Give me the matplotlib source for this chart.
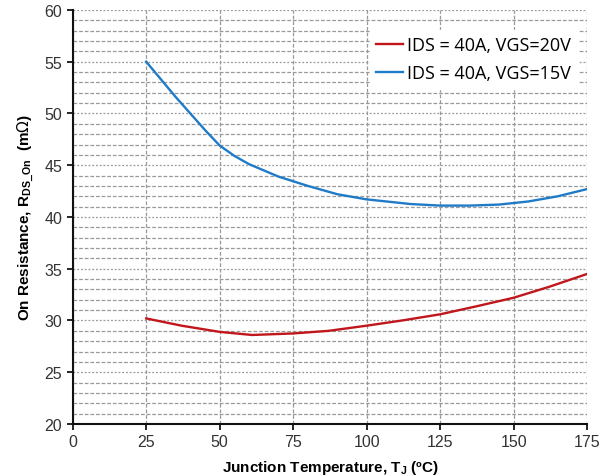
import matplotlib.pyplot as plt
from matplotlib.ticker import MultipleLocator

# Values
temp_blue = [25, 30, 35, 40, 45, 50, 55, 60, 70, 80, 90, 100, 115, 125, 135, 145, 155, 165, 175]
rds_vgs15 = [55.0, 53.3, 51.6, 50.0, 48.4, 46.9, 45.9, 45.1, 43.9, 43.0, 42.2, 41.7, 41.25, 41.1, 41.1, 41.2, 41.5, 42.0, 42.7]

temp_red = [25, 37, 50, 61, 75, 87, 100, 112, 125, 137, 150, 162, 175]
rds_vgs20 = [30.2, 29.5, 28.9, 28.6, 28.75, 29.0, 29.5, 30.0, 30.6, 31.35, 32.2, 33.25, 34.5]

labels = ['IDS = 40A, VGS=20V', 'IDS = 40A, VGS=15V']
x_ticks = [0, 25, 50, 75, 100, 125, 150, 175]
y_ticks = [20, 25, 30, 35, 40, 45, 50, 55, 60]

fig = plt.figure(figsize=(6.06, 4.77), dpi=100)
ax = fig.add_axes([0.120, 0.109, 0.849, 0.868])

ax.plot(temp_red, rds_vgs20, color='#c0161c', lw=1.7, label=labels[0])
ax.plot(temp_blue, rds_vgs15, color='#1f7bc8', lw=1.7, label=labels[1])

ax.set_xlim(0, 175)
ax.set_ylim(20, 60)
ax.set_xticks(x_ticks)
ax.set_yticks(y_ticks)
ax.yaxis.set_minor_locator(MultipleLocator(1))

# Grid
ax.grid(which='major', axis='y', color='#999999', linestyle=(0, (1.5, 1.5)), lw=0.9)
ax.grid(which='minor', axis='y', color='#999999', linestyle=(0, (3, 1.5)), lw=0.9)
ax.grid(which='major', axis='x', color='#999999', linestyle=(0, (3, 1.5)), lw=0.9)
ax.set_axisbelow(True)

for side in ['top', 'right']:
    ax.spines[side].set_visible(False)
for side in ['left', 'bottom']:
    ax.spines[side].set_linewidth(1.5)
    ax.spines[side].set_color('#111111')

ax.tick_params(which='major', direction='out', length=4, width=1.2,
               labelsize=11.5, labelcolor='#333333')
ax.tick_params(which='minor', length=0)
for lbl in ax.get_xticklabels() + ax.get_yticklabels():
    lbl.set_family('Liberation Sans')

ax.set_xlabel('Junction Temperature, T$_\\mathregular{J}$ (ºC)', fontsize=11,
              fontweight='bold', family='Liberation Sans', labelpad=6)
ax.set_ylabel('On Resistance, R$_\\mathregular{DS\\_On}$  (m$\\Omega$)', fontsize=11,
              fontweight='bold', family='Liberation Sans', labelpad=6)

leg = ax.legend(loc='upper right', bbox_to_anchor=(0.998, 0.973), frameon=True,
                prop={'family': 'Open Sans', 'size': 13}, handlelength=1.5,
                handletextpad=0.2, labelspacing=0.55, borderpad=0.35)
leg.get_frame().set_edgecolor('white')
leg.get_frame().set_facecolor('white')
leg.get_frame().set_alpha(1)
leg.get_frame().set_boxstyle('square', pad=0.0)

fig.savefig('out.png', dpi=100)
